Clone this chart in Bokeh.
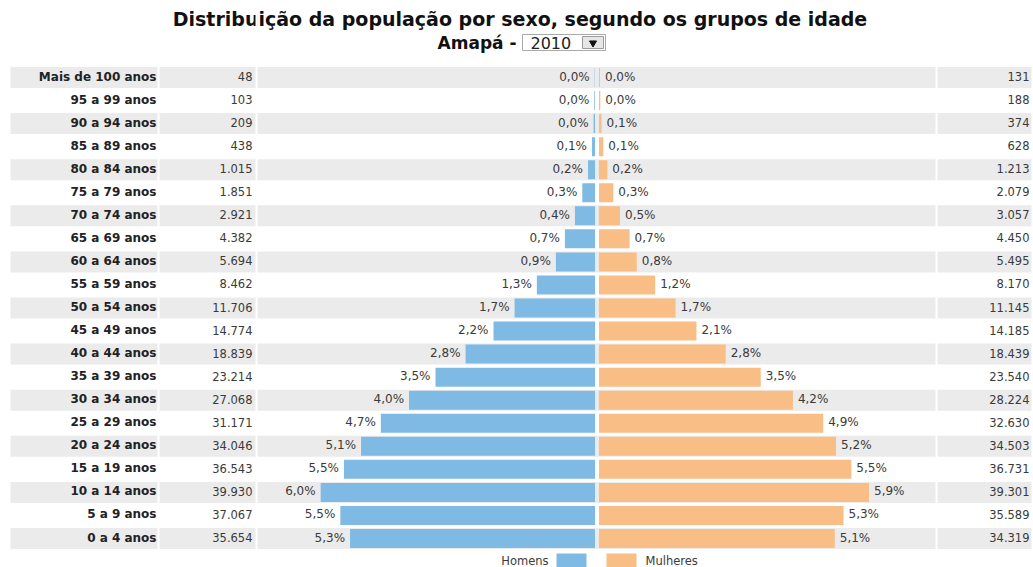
from bokeh.plotting import figure
from bokeh.models import Range1d, ColumnDataSource, Span
from bokeh.core.properties import value
from bokeh.embed import file_html
from bokeh.resources import INLINE

# ---------------- data ----------------
age_groups = ["Mais de 100 anos", "95 a 99 anos", "90 a 94 anos", "85 a 89 anos",
              "80 a 84 anos", "75 a 79 anos", "70 a 74 anos", "65 a 69 anos",
              "60 a 64 anos", "55 a 59 anos", "50 a 54 anos", "45 a 49 anos",
              "40 a 44 anos", "35 a 39 anos", "30 a 34 anos", "25 a 29 anos",
              "20 a 24 anos", "15 a 19 anos", "10 a 14 anos", "5 a 9 anos", "0 a 4 anos"]
homens = [48, 103, 209, 438, 1015, 1851, 2921, 4382, 5694, 8462, 11706, 14774,
          18839, 23214, 27068, 31171, 34046, 36543, 39930, 37067, 35654]
mulheres = [131, 188, 374, 628, 1213, 2079, 3057, 4450, 5495, 8170, 11145, 14185,
            18439, 23540, 28224, 32630, 34503, 36731, 39301, 35589, 34319]
title_text = "Distribuição da população por sexo, segundo os grupos de idade"
state_text = "Amapá -"
year_text = "2010"
legend_labels = ["Homens", "Mulheres"]

# ---------------- geometry helpers (page pixels -> data) ----------------
W, H = 1033, 567
PX_PER_PCT = 46.0
CX = 596.5            # x of the pyramid centre
ROW0 = 77.0           # y of first row centre
PITCH = 23.05

def xd(page_x):
    return (page_x - CX) / PX_PER_PCT

def yd(page_y):
    return -(page_y - ROW0) / PITCH

BLUE = "#7fbae4"
ORANGE = "#f9bd86"
GRAY = "#ebebeb"
TXT = "#3a3a3a"
FONT = value("DejaVu Sans")

total = sum(homens) + sum(mulheres)
pct_h = [v / total * 100 for v in homens]
pct_m = [v / total * 100 for v in mulheres]
ys = [-i for i in range(len(age_groups))]
gap = 2.0 / PX_PER_PCT

def fmt_pct(v):
    return f"{v:.1f}".replace(".", ",") + "%"

def fmt_num(v):
    return f"{v:,}".replace(",", ".")

src = ColumnDataSource(dict(
    y=ys,
    age=age_groups,
    h_num=[fmt_num(v) for v in homens],
    m_num=[fmt_num(v) for v in mulheres],
    h_left=[-gap - p for p in pct_h],
    h_right=[-gap] * len(ys),
    m_left=[gap] * len(ys),
    m_right=[gap + p for p in pct_m],
    h_lab=[fmt_pct(p) for p in pct_h],
    m_lab=[fmt_pct(p) for p in pct_m],
))

p = figure(width=W, height=H, output_backend="svg", toolbar_location=None,
           x_range=Range1d(xd(0), xd(W)),
           y_range=Range1d(yd(H), yd(0)),
           x_axis_type=None, y_axis_type=None, min_border=0,
           outline_line_color=None, background_fill_color="white")
p.grid.visible = False

# alternating row shading
shade_y = [y for i, y in enumerate(ys) if i % 2 == 0]
p.hbar(y=shade_y, left=xd(10), right=xd(1031), height=21 / PITCH,
       fill_color=GRAY, line_color=None)
for sx in (158, 256, 936):
    p.add_layout(Span(location=xd(sx), dimension="height", line_color="white", line_width=2))

# bars
p.hbar(y="y", left="h_left", right="h_right", height=19 / PITCH, source=src,
       fill_color=BLUE, line_color=None)
p.hbar(y="y", left="m_left", right="m_right", height=19 / PITCH, source=src,
       fill_color=ORANGE, line_color=None)

# percentage labels
p.text(x="h_left", y="y", text="h_lab", source=src, text_align="right",
       text_baseline="middle", x_offset=-5, y_offset=-1, text_font=FONT,
       text_font_size="12px", text_color=TXT)
p.text(x="m_right", y="y", text="m_lab", source=src, text_align="left",
       text_baseline="middle", x_offset=5, y_offset=-1, text_font=FONT,
       text_font_size="12px", text_color=TXT)

# table columns
p.text(x=xd(156), y="y", text="age", source=src, text_align="right",
       text_baseline="middle", y_offset=-1, text_font=FONT, text_font_size="12px",
       text_font_style="bold", text_color="#222222")
p.text(x=xd(252), y="y", text="h_num", source=src, text_align="right",
       text_baseline="middle", y_offset=-1, text_font=FONT, text_font_size="11.5px",
       text_color=TXT)
p.text(x=xd(1029), y="y", text="m_num", source=src, text_align="right",
       text_baseline="middle", y_offset=-1, text_font=FONT, text_font_size="11.5px",
       text_color=TXT)

# title
p.text(x=[xd(519.5)], y=[yd(18)], text=[title_text], text_align="center",
       text_baseline="middle", text_font=FONT, text_font_size="19px",
       text_font_style="bold", text_color="#111111")
p.text(x=[xd(516)], y=[yd(42)], text=[state_text], text_align="right",
       text_baseline="middle", text_font=FONT, text_font_size="17px",
       text_font_style="bold", text_color="#111111")
# year select box
p.quad(left=[xd(522)], right=[xd(605)], top=[yd(34)], bottom=[yd(50)],
       fill_color="white", line_color="#a9a9a9", line_width=1)
p.text(x=[xd(530)], y=[yd(42)], text=[year_text], text_align="left",
       text_baseline="middle", text_font=FONT, text_font_size="16px",
       text_color="#222222")
p.quad(left=[xd(582)], right=[xd(603)], top=[yd(36)], bottom=[yd(48)],
       fill_color="#e6e6e6", line_color="#9a9a9a", line_width=1)
p.scatter(x=[xd(592.5)], y=[yd(42.5)], marker="inverted_triangle", size=7,
          fill_color="#111111", line_color="#111111")

# legend
p.text(x=[xd(548)], y=[yd(560)], text=[legend_labels[0]], text_align="right",
       text_baseline="middle", text_font=FONT, text_font_size="11.5px", text_color=TXT)
p.quad(left=[xd(556)], right=[xd(586)], top=[yd(553)], bottom=[yd(570)],
       fill_color=BLUE, line_color=None)
p.quad(left=[xd(606)], right=[xd(636)], top=[yd(553)], bottom=[yd(570)],
       fill_color=ORANGE, line_color=None)
p.text(x=[xd(645)], y=[yd(560)], text=[legend_labels[1]], text_align="left",
       text_baseline="middle", text_font=FONT, text_font_size="11.5px", text_color=TXT)

open("out.html", "w").write(file_html(p, INLINE))
